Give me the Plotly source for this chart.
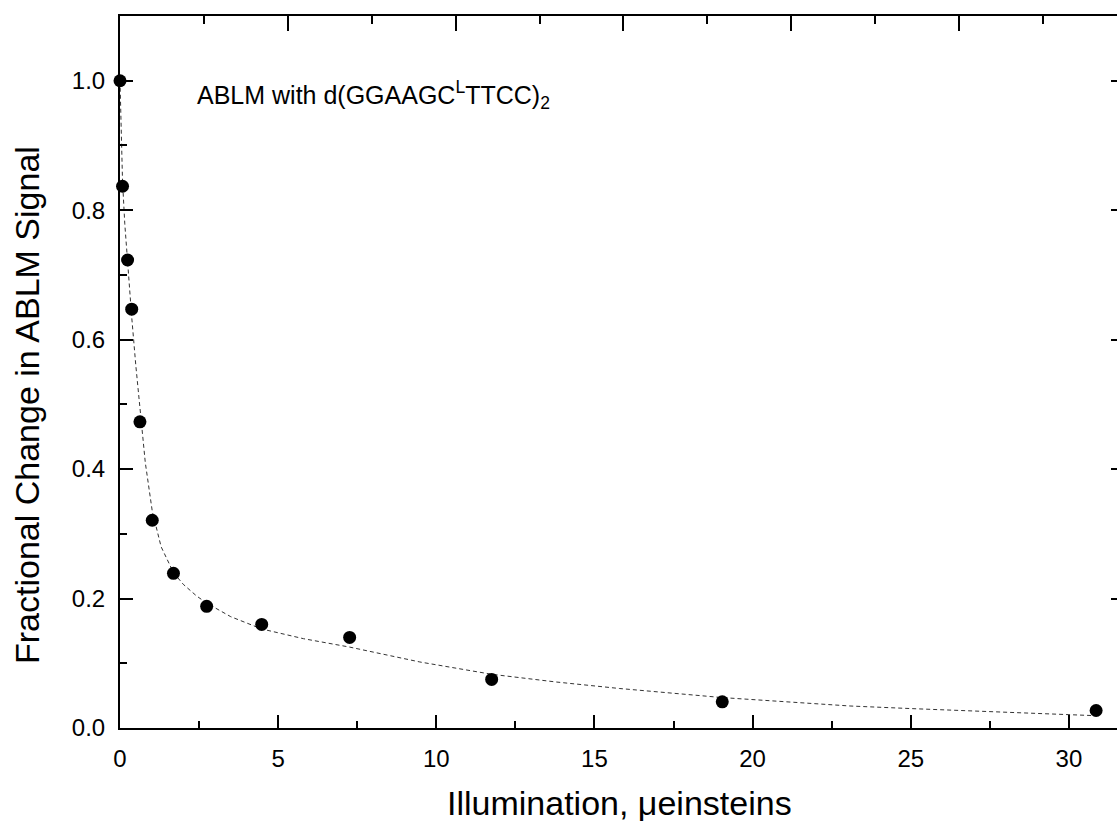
import plotly.graph_objects as go

# Measured data points
illum = [0, 0.08, 0.24, 0.37, 0.63, 1.02, 1.69, 2.74, 4.48, 7.26, 11.75, 19.04, 30.86]
frac = [1.0, 0.837, 0.723, 0.647, 0.473, 0.321, 0.239, 0.188, 0.160, 0.140, 0.075, 0.0405, 0.027]

# Fitted curve
fit_x = [0, 0.03, 0.08, 0.15, 0.24, 0.37, 0.5, 0.63, 0.8, 1.02, 1.3, 1.69, 2.0, 2.42, 2.74,
         3.5, 4.48, 5.8, 7.26, 9.48, 11.75, 13.8, 15.8, 19.04, 21.5, 23.08, 25, 27.5, 30, 30.86]
fit_y = [1.0, 0.93, 0.845, 0.78, 0.715, 0.635, 0.56, 0.49, 0.41, 0.335, 0.28, 0.24, 0.222, 0.204, 0.193,
         0.172, 0.153, 0.138, 0.125, 0.102, 0.083, 0.071, 0.061, 0.047, 0.039, 0.034, 0.030, 0.025, 0.021, 0.019]

x_ticks = [0, 5, 10, 15, 20, 25, 30]
y_ticks = [0.0, 0.2, 0.4, 0.6, 0.8, 1.0]
y_tick_text = ["0.0", "0.2", "0.4", "0.6", "0.8", "1.0"]

x_title = "Illumination, \u03bceinsteins"
y_title = "Fractional Change in ABLM Signal"
note = "ABLM with d(GGAAGC<sup>L</sup>TTCC)<sub>2</sub>"

W, H = 1117, 832
L, R, T, B = 120, 0, 16, 104
PW, PH = W - L - R, H - T - B
XMAX = 31.52
YMAX = 1.1
FONT = "Liberation Sans, Arial, sans-serif"


def px_x(p):
    return (p - L) / PW


def px_y(p):
    return (H - B - p) / PH


fig = go.Figure()
fig.add_trace(go.Scatter(x=fit_x, y=fit_y, mode="lines",
                         line=dict(color="#333333", width=1, dash="4px,3px"),
                         showlegend=False, hoverinfo="skip"))
fig.add_trace(go.Scatter(x=illum, y=frac, mode="markers",
                         marker=dict(color="black", size=13, symbol="circle"),
                         cliponaxis=False, showlegend=False))
# dummy trace to activate the top / right axes
fig.add_trace(go.Scatter(x=[1], y=[0.5], xaxis="x2", yaxis="y2", mode="markers",
                         marker=dict(opacity=0), showlegend=False, hoverinfo="skip"))

fig.update_layout(
    width=W, height=H,
    margin=dict(l=L, r=R, t=T, b=B),
    paper_bgcolor="white", plot_bgcolor="white",
    font=dict(family=FONT, color="black", size=24),
    xaxis=dict(range=[0, XMAX], showgrid=False, zeroline=False,
               showline=True, linecolor="black", linewidth=2, mirror=False,
               tickmode="array", tickvals=x_ticks, ticktext=[str(v) for v in x_ticks],
               ticks="inside", ticklen=13, tickwidth=2, tickcolor="black",
               ticklabelstandoff=8,
               minor=dict(dtick=2.5, tick0=0, ticks="inside", ticklen=7, tickwidth=2, tickcolor="black"),
               tickfont=dict(size=24, family=FONT)),
    yaxis=dict(range=[0, YMAX], showgrid=False, zeroline=False,
               showline=True, linecolor="black", linewidth=2, mirror=False,
               tickmode="array", tickvals=y_ticks, ticktext=y_tick_text,
               ticks="inside", ticklen=13, tickwidth=2, tickcolor="black",
               ticklabelstandoff=8,
               minor=dict(dtick=0.1, tick0=0, ticks="inside", ticklen=7, tickwidth=2, tickcolor="black"),
               tickfont=dict(size=24, family=FONT)),
    xaxis2=dict(range=[0, XMAX], overlaying="x", side="top", showgrid=False, zeroline=False,
                showline=True, linecolor="black", linewidth=2,
                tickmode="linear", tick0=0, dtick=5.305,
                ticks="inside", ticklen=15, tickwidth=2, tickcolor="black",
                showticklabels=False,
                minor=dict(dtick=2.6525, tick0=0, ticks="inside", ticklen=8, tickwidth=2, tickcolor="black")),
    yaxis2=dict(range=[0, YMAX], overlaying="y", side="right", showgrid=False, zeroline=False,
                showline=False, tickmode="array", tickvals=y_ticks,
                ticks="inside", ticklen=6, tickwidth=2, tickcolor="black",
                showticklabels=False),
)

fig.add_annotation(text=y_title, xref="paper", yref="paper",
                   x=px_x(27), y=px_y(405), textangle=-90,
                   xanchor="center", yanchor="middle", showarrow=False,
                   font=dict(size=34, family=FONT, color="black"))
fig.add_annotation(text=x_title, xref="paper", yref="paper",
                   x=px_x(619), y=px_y(803), 
                   xanchor="center", yanchor="middle", showarrow=False,
                   font=dict(size=34, family=FONT, color="black"))
fig.add_annotation(text=note, xref="paper", yref="paper",
                   x=px_x(195), y=px_y(95),
                   xanchor="left", yanchor="middle", showarrow=False,
                   font=dict(size=25, family=FONT, color="black"))

fig.write_html("out.html")
